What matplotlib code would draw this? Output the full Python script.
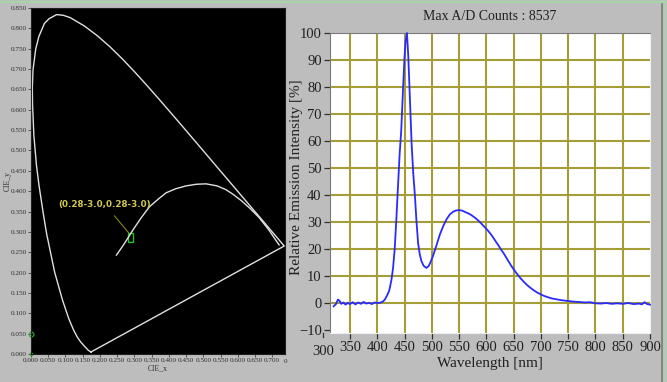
import matplotlib.pyplot as plt
import matplotlib.patches as mpatches
from matplotlib.lines import Line2D

# CIE 1931 spectral locus (x, y), closed by the purple line
locus_x = [0.1741, 0.1666, 0.1566, 0.1440, 0.1355, 0.1241, 0.1096, 0.0913, 0.0687,
           0.0454, 0.0364, 0.0235, 0.0158, 0.0082, 0.0045, 0.0039, 0.0058, 0.0139,
           0.0228, 0.0389, 0.0522, 0.0743, 0.0940, 0.1142, 0.1547,
           0.1929, 0.2296, 0.2658, 0.3016, 0.3373, 0.3731, 0.4087, 0.4441, 0.4788,
           0.5125, 0.5448, 0.5752, 0.6029, 0.6270, 0.6658, 0.6915, 0.7079, 0.7190,
           0.7260, 0.7347, 0.1741]
locus_y = [0.0050, 0.0089, 0.0177, 0.0297, 0.0399, 0.0578, 0.0868, 0.1327, 0.2007,
           0.2950, 0.3410, 0.4127, 0.4640, 0.5384, 0.6127, 0.6548, 0.6980, 0.7502,
           0.7800, 0.8120, 0.8235, 0.8338, 0.8320, 0.8262, 0.8059,
           0.7816, 0.7543, 0.7243, 0.6923, 0.6589, 0.6245, 0.5896, 0.5547, 0.5202,
           0.4866, 0.4544, 0.4242, 0.3965, 0.3725, 0.3340, 0.3083, 0.2920, 0.2809,
           0.2740, 0.2653, 0.0050]

# blackbody curve as drawn in the picture
planck_x = [0.248, 0.27, 0.296, 0.32, 0.344, 0.37, 0.392, 0.42, 0.45, 0.48, 0.508,
            0.54, 0.565, 0.585, 0.61, 0.635, 0.662, 0.69, 0.71, 0.72]
planck_y = [0.243, 0.27, 0.305, 0.335, 0.362, 0.381, 0.396, 0.406, 0.413, 0.417, 0.418,
            0.413, 0.404, 0.393, 0.377, 0.358, 0.335, 0.305, 0.28, 0.268]

point_xy = (0.289, 0.286)
point_label = '(0.28-3.0,0.28-3.0)'

cie_xticks = [0.0, 0.05, 0.1, 0.15, 0.2, 0.25, 0.3, 0.35, 0.4, 0.45, 0.5, 0.55, 0.6, 0.65, 0.7]
cie_yticks = [0.0, 0.05, 0.1, 0.15, 0.2, 0.25, 0.3, 0.35, 0.4, 0.45, 0.5, 0.55, 0.6, 0.65,
              0.7, 0.75, 0.8, 0.85]

# emission spectrum
wavelength = [320, 324, 328, 331, 334, 338, 342, 346, 350, 355, 360, 365, 370, 375, 380,
              385, 390, 395, 400, 405, 410, 414, 418, 422, 426, 429, 432, 435, 438, 441,
              444, 447, 450, 452, 454.5, 457, 460, 463, 466, 469, 472, 475, 478, 481, 485,
              490, 494, 498, 502, 508, 515, 521, 527, 533, 539, 545, 551, 556, 561, 567,
              573, 579, 585, 591, 597, 603, 609, 615, 621, 627, 633, 639, 645, 651, 657,
              663, 669, 675, 681, 687, 693, 699, 705, 712, 720, 728, 736, 744, 752, 760,
              770, 780, 790, 800, 810, 820, 830, 840, 850, 860, 870, 880, 885, 890, 895, 900]
intensity = [-1.2, -0.5, 1.3, 0.8, -0.3, 0.2, -0.6, 0.1, -0.4, 0.3, -0.5, 0.2, -0.3, 0.4, -0.2,
             0.1, -0.4, 0.2, 0.0, 0.1, 0.5, 1.3, 2.8, 4.6, 8.5, 13, 20, 31, 43, 55,
             64, 78, 91, 97, 100, 91, 75, 59, 48, 40, 30, 22, 18, 15.5, 13.8,
             13, 13.6, 15.3, 17.3, 21, 25.5, 28.5, 31, 32.8, 33.8, 34.3, 34.4, 34.2, 33.7, 33.2,
             32.5, 31.6, 30.6, 29.4, 28.1, 26.8, 25.3, 23.5, 21.7, 19.8, 18, 16, 14, 12.2, 10.6,
             9.1, 7.8, 6.6, 5.6, 4.7, 3.9, 3.3, 2.7, 2.2, 1.7, 1.4, 1.1, 0.9, 0.7, 0.5,
             0.4, 0.2, 0.3, -0.1, -0.2, 0.0, -0.3, -0.1, -0.3, 0.0, -0.4, -0.2, -0.5, 0.3, -0.4, -0.6]

spec_xticks = [350, 400, 450, 500, 550, 600, 650, 700, 750, 800, 850, 900]
spec_yticks = [-10, 0, 10, 20, 30, 40, 50, 60, 70, 80, 90, 100]
title = 'Max A/D Counts : 8537'

bg = '#bdbdbd'
serif = ['Liberation Serif', 'DejaVu Serif']

fig = plt.figure(figsize=(6.67, 3.82), dpi=100, facecolor=bg)

# window decorations
fig.add_artist(Line2D([0, 1], [0.994, 0.994], color='#a6d6a6', lw=1.5))
fig.add_artist(Line2D([0.9925, 0.9925], [0, 0.99], color='#7a7a7a', lw=1.2))
fig.add_artist(Line2D([0.997, 0.997], [0, 0.99], color='#a6d6a6', lw=1.2))

# ---- left: chromaticity diagram ----
ax1 = fig.add_axes([31 / 667, 28 / 382, 254 / 667, 346 / 382])
ax1.set_facecolor('black')
ax1.plot(locus_x, locus_y, color='#e0e0e0', lw=1.0)
ax1.plot(planck_x, planck_y, color='#e0e0e0', lw=1.0)
ax1.add_patch(mpatches.Rectangle((point_xy[0] - 0.008, point_xy[1] - 0.011), 0.016, 0.022,
                                 fill=False, ec='#20c020', lw=1.0))
ax1.annotate(point_label, xy=(point_xy[0] - 0.006, point_xy[1] + 0.012),
             xytext=(0.214, 0.368), ha='center', va='center',
             color='#d0c850', fontsize=6.3, fontweight='bold', family='DejaVu Sans',
             arrowprops=dict(arrowstyle='-', color='#8a8420', lw=0.8, shrinkA=4, shrinkB=0))
ax1.plot([0], [0.05], 'o', ms=3.5, mfc='none', mec='#30b030', mew=0.8, clip_on=False)
ax1.plot([0], [0.0], 's', ms=1.5, color='#30b030', clip_on=False)
ax1.set_xlim(0, 0.737)
ax1.set_ylim(0, 0.85)
ax1.set_xticks(cie_xticks)
ax1.set_xticklabels(['%.3f' % v for v in cie_xticks])
ax1.set_yticks(cie_yticks)
ax1.set_yticklabels(['%.3f' % v for v in cie_yticks])
ax1.tick_params(length=2, width=0.6, color='#404040', labelsize=5.2, labelcolor='#303030', pad=1)
for lab in ax1.get_xticklabels() + ax1.get_yticklabels():
    lab.set_family(serif)
ax1.text(0.737, -0.012, '0', ha='center', va='top',
         fontsize=5.2, color='#303030', family=serif, clip_on=False)
ax1.set_xlabel('CIE_x', fontsize=5.5, family=serif, color='#303030', labelpad=1)
ax1.set_ylabel('CIE_y', fontsize=5.5, family=serif, color='#303030')
ax1.yaxis.set_label_coords(-0.075, 0.5)
for s in ax1.spines.values():
    s.set_color('#202020')

# ---- right: emission spectrum ----
ax2 = fig.add_axes([330 / 667, 49 / 382, 320 / 667, 300 / 382])
ax2.set_facecolor('white')
ax2.set_xlim(313.4, 900)
ax2.set_ylim(-11.1, 100)
grid_c = '#a59d35'
for v in spec_xticks[:-1]:
    ax2.axvline(v, color=grid_c, lw=1.5, zorder=1)
for v in spec_yticks[1:-1]:
    ax2.axhline(v, color=grid_c, lw=1.5, zorder=1)
ax2.plot(wavelength, intensity, color='#2a2aff', lw=1.3, zorder=3, clip_on=False)
ax2.set_xticks(spec_xticks)
ax2.set_yticks(spec_yticks)
ax2.tick_params(direction='out', length=4, width=0.9, color='#303030',
                labelsize=10.5, labelcolor='#202020', pad=2)
for lab in ax2.get_xticklabels() + ax2.get_yticklabels():
    lab.set_family(serif)
ax2.text(300, -15.6, '300', ha='center', va='top', fontsize=10.5, color='#202020',
         family=serif, clip_on=False)
ax2.plot([300, 300], [-11.1, -12.6], color='#303030', lw=0.9, clip_on=False)
ax2.set_xlabel('Wavelength [nm]', fontsize=11, family=serif, color='#202020', labelpad=2)
ax2.set_ylabel('Relative Emission Intensity [%]', fontsize=11, family=serif,
               color='#202020')
ax2.yaxis.set_label_coords(-0.085, 0.52)
ax2.set_title(title, fontsize=10, family=serif, color='#202020', pad=9)
ax2.spines['top'].set_color('#7a7a7a')
ax2.spines['left'].set_color('#7a7a7a')
ax2.spines['right'].set_color('#f0f0f0')
ax2.spines['bottom'].set_color('#f0f0f0')

fig.savefig('out.png', dpi=100, facecolor=bg)
